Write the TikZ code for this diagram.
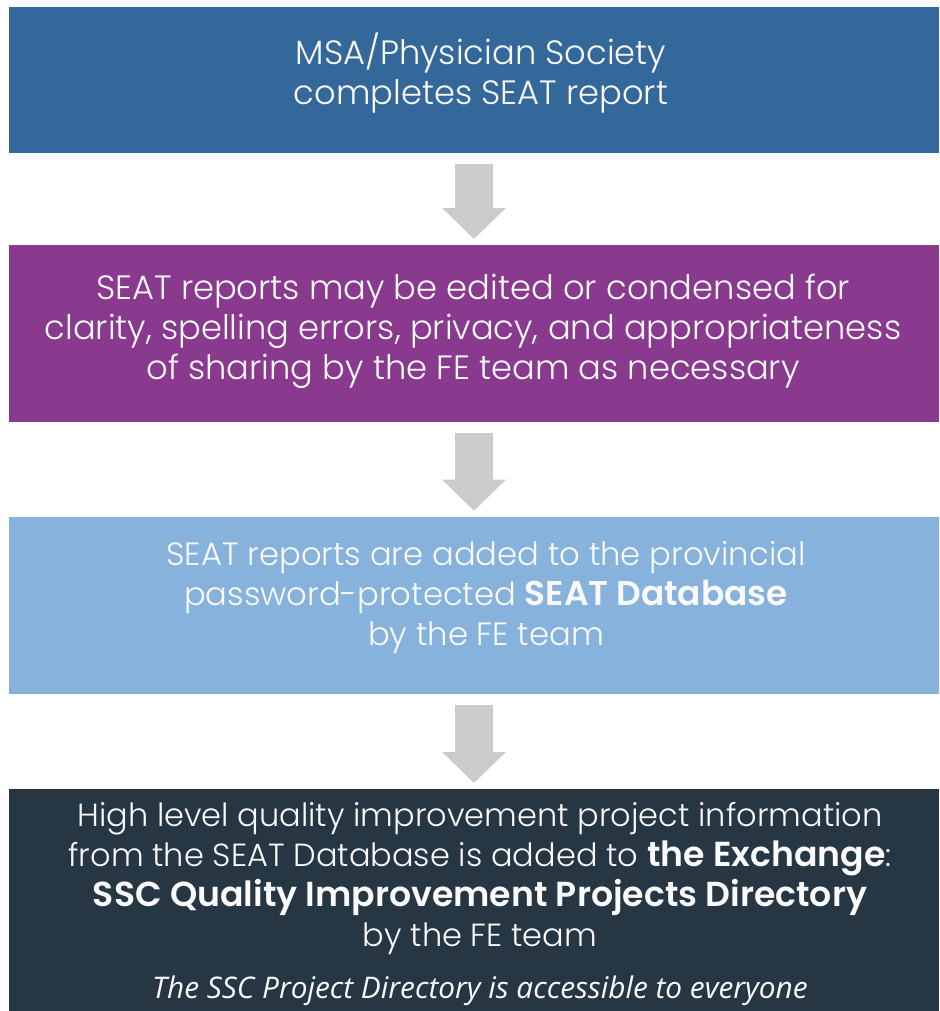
\documentclass[tikz,border=0pt]{standalone}
\usepackage{fontspec}
\setmainfont{Poppins Light}
\newfontfamily\boldf{Poppins SemiBold}[Scale=1.02]
\newfontfamily\itf{Open Sans Italic}
\usetikzlibrary{arrows.meta}
\definecolor{cblue}{RGB}{52,104,154}
\definecolor{cpurple}{RGB}{137,58,142}
\definecolor{clight}{RGB}{135,178,220}
\definecolor{cdark}{RGB}{38,54,66}
\definecolor{cgray}{RGB}{204,203,201}
\definecolor{ctext}{RGB}{250,250,252}
\newcommand{\bfA}[1]{{\boldf\fontsize{33.7}{40}\selectfont #1}}
\newcommand{\bfB}[1]{{\boldf\fontsize{34}{40}\selectfont #1}}
\begin{document}
\begin{tikzpicture}[x=1pt,y=-1pt,
  box/.style={draw=none, minimum width=930pt, inner sep=0pt, outer sep=0pt},
  txt/.style={text=ctext, align=center, inner sep=0pt, anchor=base, font=\fontsize{33.7}{40}\selectfont},
  flow/.style={draw=cgray, line width=38pt, -{Triangle[width=62pt,length=31pt]}, shorten <=11pt, shorten >=6pt}]
\useasboundingbox (0,0) rectangle (939,1011);
\node[box, fill=cblue, minimum height=145.7pt] (b1) at (474,79.85) {};
\node[box, fill=cpurple, minimum height=176.7pt] (b2) at (474,333.35) {};
\node[box, fill=clight, minimum height=177pt] (b3) at (474,605.2) {};
\node[box, fill=cdark, minimum height=222pt] (b4) at (474,900) {};
\node[txt] (t1) at (481,105) {MSA/Physician Society\\completes SEAT report};
\node[txt] (t2) at (473,379) {SEAT reports may be edited or condensed for\\clarity, spelling errors, privacy, and appropriateness\\of sharing by the FE team as necessary};
\node[txt, font=\fontsize{32.2}{40}\selectfont] (t3) at (486,645) {SEAT reports are added to the provincial\\password-protected \bfA{SEAT Database}\\by the FE team};
\node[txt, font=\fontsize{32}{40}\selectfont] (t4) at (480,946) {High level quality improvement project information\\from the SEAT Database is added to \bfB{the Exchange}:\\\bfB{SSC Quality Improvement Projects Directory}\\by the FE team};
\node[text=ctext, inner sep=0pt, anchor=base, font=\itf\fontsize{29.8}{34}\selectfont] (t5) at (480,998) {The SSC Project Directory is accessible to everyone};
\draw[flow] (b1.south) -- (b2.north);
\draw[flow] (b2.south) -- (b3.north);
\draw[flow] (b3.south) -- (b4.north);
\end{tikzpicture}
\end{document}
